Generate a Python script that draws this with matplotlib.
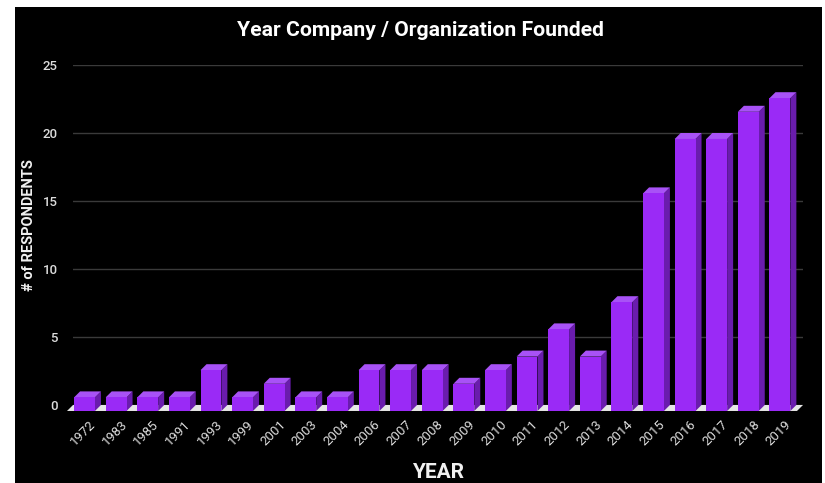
import matplotlib
matplotlib.use("Agg")
import matplotlib.pyplot as plt
from matplotlib.patches import Polygon, Rectangle

plt.rcParams['font.family'] = ['Roboto', 'DejaVu Sans']

years = ["1972", "1983", "1985", "1991", "1993", "1999", "2001", "2003", "2004",
         "2006", "2007", "2008", "2009", "2010", "2011", "2012", "2013", "2014",
         "2015", "2016", "2017", "2018", "2019"]
respondents = [1, 1, 1, 1, 3, 1, 2, 1, 1, 3, 3, 3, 2, 3, 4, 6, 4, 8, 16, 20, 20, 22, 23]
y_ticks = [0, 5, 10, 15, 20, 25]

W, H = 825, 483
fig = plt.figure(figsize=(W / 100, H / 100), dpi=100, facecolor="white")

# black panel behind the chart
fig.patches.append(Rectangle((15 / W, 0), (822 - 15) / W, (483 - 7) / H,
                             transform=fig.transFigure, facecolor="black",
                             edgecolor="none", zorder=-10))

ax = fig.add_axes([73 / W, (H - 405) / H, (803 - 73) / W, (405 - 65) / H])
ax.set_facecolor("none")

n = len(years)
xlo, xhi = -0.364, 22.73
ax.set_xlim(xlo, xhi)
ax.set_ylim(0, 25)

bw = 0.66      # bar front-face width (category units)
dx = 0.19      # depth offset, horizontal
dy = 0.44      # depth offset, vertical (value units)

front_c = "#9a2af6"
top_c = "#a852f6"
side_c = "#6a1cad"

# floor slab
ax.add_patch(Polygon([(xlo - dx, -dy), (xhi - dx, -dy), (xhi, 0), (xlo, 0)],
                     closed=True, facecolor="#e6e6e6", edgecolor="none",
                     clip_on=False, zorder=2))

for i, v in enumerate(respondents):
    x0, x1 = i - bw / 2, i + bw / 2
    ax.add_patch(Polygon([(x1, -dy), (x1 + dx, 0), (x1 + dx, v), (x1, v - dy)],
                         closed=True, facecolor=side_c, edgecolor="none",
                         clip_on=False, zorder=3))
    ax.add_patch(Polygon([(x0, v - dy), (x1, v - dy), (x1 + dx, v), (x0 + dx, v)],
                         closed=True, facecolor=top_c, edgecolor="none",
                         clip_on=False, zorder=3))
    ax.add_patch(Rectangle((x0, -dy), bw, v, facecolor=front_c,
                           edgecolor="none", clip_on=False, zorder=4))

ax.set_yticks(y_ticks)
ax.set_yticklabels([str(t) for t in y_ticks])
ax.grid(axis="y", color="#3a3a3a", linewidth=1.0, zorder=1)
ax.set_axisbelow(True)

ax.set_xticks([i + 0.15 for i in range(n)])
ax.set_xticklabels(years, rotation=45, ha="right", rotation_mode="anchor")

ax.tick_params(axis="both", length=0, colors="#dcdcdc", labelsize=9.5)
ax.tick_params(axis="y", pad=11)
ax.tick_params(axis="x", pad=9)
for lbl in ax.get_yticklabels():
    lbl.set_fontweight("medium")

for s in ax.spines.values():
    s.set_visible(False)

ax.set_xlabel("YEAR", color="#f0f0f0", fontsize=15, fontweight="bold", labelpad=11)
ax.set_ylabel("# of RESPONDENTS", color="#f0f0f0", fontsize=10.5,
              fontweight="bold", labelpad=8)
ax.yaxis.set_label_coords(-0.051, 0.53)

fig.text(420 / W, 1 - 31 / H, "Year Company / Organization Founded",
         ha="center", va="center", color="white", fontsize=15.2, fontweight="bold")

fig.savefig("out.png", dpi=100, facecolor="white")
